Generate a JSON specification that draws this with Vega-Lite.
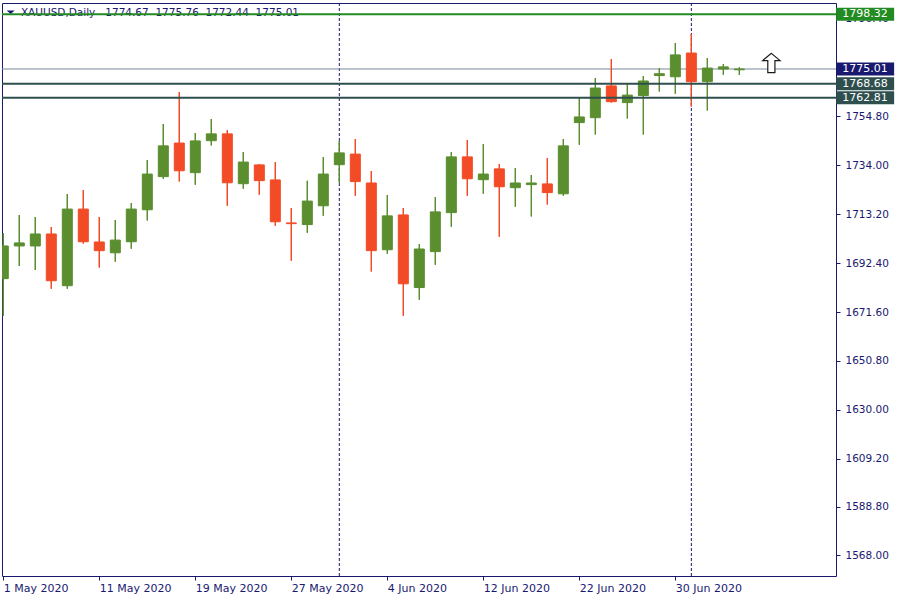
{
  "$schema": "https://vega.github.io/schema/vega-lite/v6.json",
  "width": 834,
  "height": 573,
  "autosize": {"type": "none"},
  "padding": {"left": 2, "top": 3, "right": 64, "bottom": 24},
  "background": "white",
  "config": {
    "view": {"stroke": "#191970", "strokeWidth": 1},
    "font": "DejaVu Sans"
  },
  "datasets": {
    "candles": [
      {"i": 0, "date": "2020-05-01", "o": 1685.8, "h": 1705.2, "l": 1670.0, "c": 1699.7},
      {"i": 1, "date": "2020-05-04", "o": 1699.7, "h": 1712.9, "l": 1691.2, "c": 1701.0},
      {"i": 2, "date": "2020-05-05", "o": 1699.7, "h": 1712.0, "l": 1689.5, "c": 1704.8},
      {"i": 3, "date": "2020-05-06", "o": 1704.8, "h": 1707.8, "l": 1681.5, "c": 1684.9},
      {"i": 4, "date": "2020-05-07", "o": 1682.8, "h": 1721.8, "l": 1681.5, "c": 1715.4},
      {"i": 5, "date": "2020-05-08", "o": 1715.4, "h": 1723.5, "l": 1700.7, "c": 1701.5},
      {"i": 6, "date": "2020-05-11", "o": 1701.4, "h": 1712.0, "l": 1690.5, "c": 1697.7},
      {"i": 7, "date": "2020-05-12", "o": 1696.8, "h": 1710.8, "l": 1693.0, "c": 1702.2},
      {"i": 8, "date": "2020-05-13", "o": 1701.5, "h": 1718.0, "l": 1698.5, "c": 1715.4},
      {"i": 9, "date": "2020-05-14", "o": 1715.1, "h": 1736.3, "l": 1710.5, "c": 1730.3},
      {"i": 10, "date": "2020-05-15", "o": 1729.2, "h": 1751.6, "l": 1728.3, "c": 1742.3},
      {"i": 11, "date": "2020-05-18", "o": 1743.5, "h": 1765.2, "l": 1727.1, "c": 1731.7},
      {"i": 12, "date": "2020-05-19", "o": 1730.9, "h": 1747.8, "l": 1725.8, "c": 1744.4},
      {"i": 13, "date": "2020-05-20", "o": 1744.5, "h": 1753.7, "l": 1742.4, "c": 1747.4},
      {"i": 14, "date": "2020-05-21", "o": 1747.4, "h": 1749.1, "l": 1716.8, "c": 1726.6},
      {"i": 15, "date": "2020-05-22", "o": 1726.2, "h": 1739.7, "l": 1724.1, "c": 1735.4},
      {"i": 16, "date": "2020-05-25", "o": 1734.2, "h": 1734.6, "l": 1721.5, "c": 1727.5},
      {"i": 17, "date": "2020-05-26", "o": 1727.8, "h": 1735.4, "l": 1708.3, "c": 1710.0},
      {"i": 18, "date": "2020-05-27", "o": 1709.5, "h": 1715.9, "l": 1693.4, "c": 1709.2},
      {"i": 19, "date": "2020-05-28", "o": 1708.8, "h": 1727.4, "l": 1705.3, "c": 1718.8},
      {"i": 20, "date": "2020-05-29", "o": 1716.8, "h": 1737.6, "l": 1712.6, "c": 1730.3},
      {"i": 21, "date": "2020-06-01", "o": 1734.3, "h": 1744.4, "l": 1726.6, "c": 1739.3},
      {"i": 22, "date": "2020-06-02", "o": 1738.8, "h": 1745.2, "l": 1721.1, "c": 1727.1},
      {"i": 23, "date": "2020-06-03", "o": 1726.5, "h": 1731.6, "l": 1688.8, "c": 1697.7},
      {"i": 24, "date": "2020-06-04", "o": 1698.1, "h": 1721.4, "l": 1696.4, "c": 1712.5},
      {"i": 25, "date": "2020-06-05", "o": 1712.9, "h": 1715.9, "l": 1670.0, "c": 1683.6},
      {"i": 26, "date": "2020-06-08", "o": 1682.0, "h": 1700.5, "l": 1676.8, "c": 1698.4},
      {"i": 27, "date": "2020-06-09", "o": 1697.3, "h": 1720.5, "l": 1691.7, "c": 1714.2},
      {"i": 28, "date": "2020-06-10", "o": 1713.9, "h": 1739.7, "l": 1707.9, "c": 1737.6},
      {"i": 29, "date": "2020-06-11", "o": 1737.6, "h": 1744.8, "l": 1721.1, "c": 1728.3},
      {"i": 30, "date": "2020-06-12", "o": 1727.9, "h": 1743.1, "l": 1721.9, "c": 1730.3},
      {"i": 31, "date": "2020-06-15", "o": 1732.5, "h": 1734.6, "l": 1703.6, "c": 1724.9},
      {"i": 32, "date": "2020-06-16", "o": 1724.5, "h": 1732.9, "l": 1716.4, "c": 1726.5},
      {"i": 33, "date": "2020-06-17", "o": 1725.8, "h": 1729.9, "l": 1712.2, "c": 1726.5},
      {"i": 34, "date": "2020-06-18", "o": 1726.1, "h": 1737.1, "l": 1717.3, "c": 1722.4},
      {"i": 35, "date": "2020-06-19", "o": 1721.9, "h": 1745.2, "l": 1721.1, "c": 1742.3},
      {"i": 36, "date": "2020-06-22", "o": 1752.2, "h": 1763.1, "l": 1742.8, "c": 1754.6},
      {"i": 37, "date": "2020-06-23", "o": 1754.3, "h": 1771.2, "l": 1747.1, "c": 1766.9},
      {"i": 38, "date": "2020-06-24", "o": 1767.8, "h": 1779.3, "l": 1760.7, "c": 1761.1},
      {"i": 39, "date": "2020-06-25", "o": 1760.7, "h": 1769.1, "l": 1753.9, "c": 1763.9},
      {"i": 40, "date": "2020-06-26", "o": 1763.7, "h": 1772.0, "l": 1747.1, "c": 1769.9},
      {"i": 41, "date": "2020-06-29", "o": 1772.2, "h": 1775.4, "l": 1765.4, "c": 1773.0},
      {"i": 42, "date": "2020-06-30", "o": 1771.7, "h": 1786.1, "l": 1764.5, "c": 1781.0},
      {"i": 43, "date": "2020-07-01", "o": 1781.8, "h": 1789.9, "l": 1759.0, "c": 1769.6},
      {"i": 44, "date": "2020-07-02", "o": 1769.6, "h": 1779.7, "l": 1757.3, "c": 1775.4},
      {"i": 45, "date": "2020-07-03", "o": 1775.0, "h": 1777.1, "l": 1772.6, "c": 1775.9},
      {"i": 46, "date": "2020-07-06", "o": 1774.67, "h": 1775.76, "l": 1772.44, "c": 1775.01}
    ],
    "separators": [
      {"i": 21, "date": "2020-06-01"},
      {"i": 43, "date": "2020-07-01"}
    ],
    "levels": [
      {"name": "resistance", "price": 1798.32},
      {"name": "bid", "price": 1775.01},
      {"name": "support1", "price": 1768.68},
      {"name": "support2", "price": 1762.81}
    ],
    "header": [
      {"text": "XAUUSD,Daily\u00a0\u00a0\u00a01774.67\u00a0\u00a01775.76\u00a0\u00a01772.44\u00a0\u00a01775.01"}
    ],
    "signal": [
      {"i": 48, "price": 1777.56}
    ]
  },
  "layer": [
    {
      "data": {"name": "candles"},
      "mark": {"type": "rule", "strokeWidth": 1.2, "clip": true},
      "encoding": {
        "x": {
          "field": "i", "type": "quantitative",
          "scale": {"domain": [-0.081, 52.04], "nice": false, "zero": false, "padding": 0},
          "axis": {
            "orient": "bottom",
            "values": [0, 6, 12, 18, 24, 30, 36, 42],
            "labelExpr": "['1 May 2020','11 May 2020','19 May 2020','27 May 2020','4 Jun 2020','12 Jun 2020','22 Jun 2020','30 Jun 2020'][round(datum.value/6)]",
            "title": null, "domain": false, "grid": false,
            "tickColor": "#191970", "tickSize": 4,
            "labelColor": "#191970", "labelFontSize": 11, "labelFont": "DejaVu Sans",
            "labelAlign": "left", "labelBaseline": "top", "labelPadding": 2,
            "labelOverlap": false, "labelFlush": false, "labelBound": false
          }
        },
        "y": {
          "field": "l", "type": "quantitative",
          "scale": {"domain": [1559.26, 1803.09], "nice": false, "zero": false, "padding": 0},
          "axis": {
            "orient": "right",
            "values": [1568, 1588.8, 1609.2, 1630, 1650.8, 1671.6, 1692.4, 1713.2, 1734, 1754.8, 1796.4],
            "format": ".2f",
            "title": null, "domain": false, "grid": false,
            "tickColor": "#191970", "tickSize": 4,
            "labelColor": "#191970", "labelFontSize": 10.5, "labelFont": "DejaVu Sans",
            "labelPadding": 5, "labelOverlap": false, "labelFlush": false, "labelBound": false
          }
        },
        "y2": {"field": "h"},
        "color": {"condition": {"test": "datum.c >= datum.o", "value": "#5a8e2e"}, "value": "#f24b26"}
      }
    },
    {
      "data": {"name": "separators"},
      "mark": {"type": "rule", "color": "#191970", "strokeWidth": 1, "strokeDash": [3, 2]},
      "encoding": {
        "x": {"field": "i", "type": "quantitative", "scale": {"domain": [-0.081, 52.04], "nice": false, "zero": false, "padding": 0}}
      }
    },
    {
      "data": {"name": "levels"},
      "transform": [{"filter": "datum.name == 'bid'"}],
      "mark": {"type": "rule", "color": "#778899", "strokeWidth": 1},
      "encoding": {
        "y": {"field": "price", "type": "quantitative", "scale": {"domain": [1559.26, 1803.09], "nice": false, "zero": false, "padding": 0}}
      }
    },
    {
      "data": {"name": "candles"},
      "mark": {"type": "rule", "strokeWidth": 1.2, "clip": true},
      "encoding": {
        "x": {"field": "i", "type": "quantitative", "scale": {"domain": [-0.081, 52.04], "nice": false, "zero": false, "padding": 0}},
        "y": {"field": "l", "type": "quantitative", "scale": {"domain": [1559.26, 1803.09], "nice": false, "zero": false, "padding": 0}},
        "y2": {"field": "h"},
        "color": {"condition": {"test": "datum.c >= datum.o", "value": "#5a8e2e"}, "value": "#f24b26"}
      }
    },
    {
      "data": {"name": "candles"},
      "mark": {"type": "bar", "size": 10, "strokeWidth": 1, "orient": "vertical", "clip": true},
      "encoding": {
        "x": {"field": "i", "type": "quantitative", "scale": {"domain": [-0.081, 52.04], "nice": false, "zero": false, "padding": 0}},
        "y": {"field": "o", "type": "quantitative", "scale": {"domain": [1559.26, 1803.09], "nice": false, "zero": false, "padding": 0}},
        "y2": {"field": "c"},
        "fill": {"condition": {"test": "datum.c >= datum.o", "value": "#5a8e2e"}, "value": "#f24b26"},
        "stroke": {"condition": {"test": "datum.c >= datum.o", "value": "#5a8e2e"}, "value": "#f24b26"}
      }
    },
    {
      "data": {"name": "header"},
      "mark": {"type": "point", "shape": "M-1,-0.45L1,-0.45L0,0.45Z", "size": 64, "filled": true, "opacity": 1, "color": "#191970"},
      "encoding": {
        "x": {"datum": 0.46, "type": "quantitative", "scale": {"domain": [-0.081, 52.04], "nice": false, "zero": false, "padding": 0}},
        "y": {"datum": 1799.18, "type": "quantitative", "scale": {"domain": [1559.26, 1803.09], "nice": false, "zero": false, "padding": 0}}
      }
    },
    {
      "data": {"name": "header"},
      "mark": {"type": "text", "align": "left", "baseline": "alphabetic", "fontSize": 10.5, "font": "DejaVu Sans", "color": "#191970"},
      "encoding": {
        "x": {"datum": 1.1, "type": "quantitative", "scale": {"domain": [-0.081, 52.04], "nice": false, "zero": false, "padding": 0}},
        "y": {"datum": 1797.43, "type": "quantitative", "scale": {"domain": [1559.26, 1803.09], "nice": false, "zero": false, "padding": 0}},
        "text": {"field": "text", "type": "nominal"}
      }
    },
    {
      "data": {"name": "levels"},
      "transform": [{"filter": "datum.name != 'bid'"}],
      "mark": {"type": "rule", "strokeWidth": 2},
      "encoding": {
        "y": {"field": "price", "type": "quantitative", "scale": {"domain": [1559.26, 1803.09], "nice": false, "zero": false, "padding": 0}},
        "color": {"field": "name", "type": "nominal", "scale": {"domain": ["resistance", "bid", "support1", "support2"], "range": ["#228b22", "#191970", "#2f4f4f", "#2f4f4f"]}, "legend": null}
      }
    },
    {
      "data": {"name": "levels"},
      "mark": {"type": "point", "shape": "M-1,-0.224L1,-0.224L1,0.224L-1,0.224Z", "size": 3364, "filled": true, "opacity": 1, "clip": false},
      "encoding": {
        "x": {"datum": 53.86, "type": "quantitative", "scale": {"domain": [-0.081, 52.04], "nice": false, "zero": false, "padding": 0}},
        "y": {"field": "price", "type": "quantitative", "scale": {"domain": [1559.26, 1803.09], "nice": false, "zero": false, "padding": 0}},
        "color": {"field": "name", "type": "nominal", "scale": {"domain": ["resistance", "bid", "support1", "support2"], "range": ["#228b22", "#191970", "#2f4f4f", "#2f4f4f"]}, "legend": null}
      }
    },
    {
      "data": {"name": "levels"},
      "mark": {"type": "text", "align": "center", "baseline": "middle", "fontSize": 11, "font": "DejaVu Sans", "color": "white", "clip": false},
      "encoding": {
        "x": {"datum": 53.86, "type": "quantitative", "scale": {"domain": [-0.081, 52.04], "nice": false, "zero": false, "padding": 0}},
        "y": {"field": "price", "type": "quantitative", "scale": {"domain": [1559.26, 1803.09], "nice": false, "zero": false, "padding": 0}},
        "text": {"field": "price", "type": "quantitative", "format": ".2f"}
      }
    },
    {
      "data": {"name": "signal"},
      "mark": {"type": "point", "shape": "M0,-1L0.9,-0.25L0.37,-0.25L0.37,1L-0.37,1L-0.37,-0.25L-0.9,-0.25Z", "size": 372, "filled": true, "opacity": 1, "fill": "white", "stroke": "#1a1a1a", "strokeWidth": 1.2},
      "encoding": {
        "x": {"field": "i", "type": "quantitative", "scale": {"domain": [-0.081, 52.04], "nice": false, "zero": false, "padding": 0}},
        "y": {"field": "price", "type": "quantitative", "scale": {"domain": [1559.26, 1803.09], "nice": false, "zero": false, "padding": 0}}
      }
    }
  ]
}
